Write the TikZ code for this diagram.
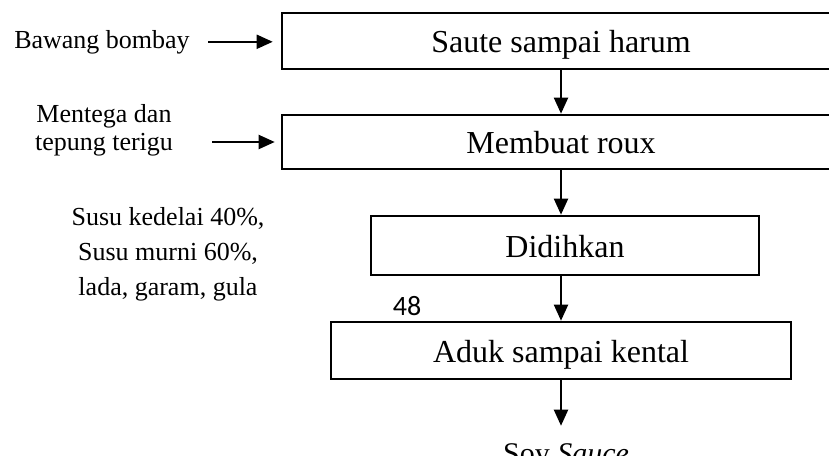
\documentclass[tikz,border=0pt]{standalone}
\usepackage{fontspec}
\setmainfont{Liberation Serif}
\newfontfamily\pagenumfont{Carlito}
\usetikzlibrary{arrows.meta}

\begin{document}
\begin{tikzpicture}[x=0.5pt, y=-0.5pt,
    procbox/.style={draw, line width=1.3pt, rectangle, inner sep=0pt,
      text height=13pt, text depth=1.4pt, font=\fontsize{16}{19}\selectfont},
    sidelabel/.style={inner sep=0pt, align=center},
    arr/.style={line width=1pt, -{Triangle[length=8pt, width=7pt]}}]
        \clip (0,0) rectangle (829,455);
        \node[procbox, minimum width=279pt, minimum height=28pt] (saute) at (561,41) {Saute sampai harum};
        \node[procbox, minimum width=279pt, minimum height=27pt] (roux) at (561,142) {Membuat roux};
        \node[procbox, minimum width=194pt, minimum height=29.5pt] (didih) at (565,245.5) {Didihkan};
        \node[procbox, minimum width=230pt, minimum height=28.5pt] (aduk) at (561,350.5) {Aduk sampai kental};
        \node[sidelabel, anchor=base, font=\fontsize{13}{14}\selectfont] (bawang) at (102,48) {Bawang bombay};
        \node[sidelabel, font=\fontsize{13}{14}\selectfont] (mentega) at (104,130) {Mentega dan\\tepung terigu};
        \node[sidelabel, font=\fontsize{13}{17.5}\selectfont] (susu) at (168,254) {Susu kedelai 40\%,\\Susu murni 60\%,\\lada, garam, gula};
        \node[inner sep=0pt, anchor=base, font=\pagenumfont\fontsize{14}{16}\selectfont] (hal) at (407,315) {48};
        \node[inner sep=0pt, anchor=base, font=\fontsize{15}{18}\selectfont] (soy) at (566,463) {Soy \textit{Sauce}};
        \draw[arr, shorten <=9pt, shorten >=4pt] (bawang.east) -- (bawang.east -| saute.west);
        \draw[arr, shorten <=19.5pt, shorten >=3pt] (mentega.east |- roux.west) -- (roux.west);
        \draw[arr] (saute.south) -- (roux.north);
        \draw[arr] (roux.south) -- (roux.south |- didih.north);
        \draw[arr] (aduk.north |- didih.south) -- (aduk.north);
        \draw[arr, shorten >=8.5pt] (aduk.south) -- (aduk.south |- soy.north);
      \end{tikzpicture}
\end{document}
